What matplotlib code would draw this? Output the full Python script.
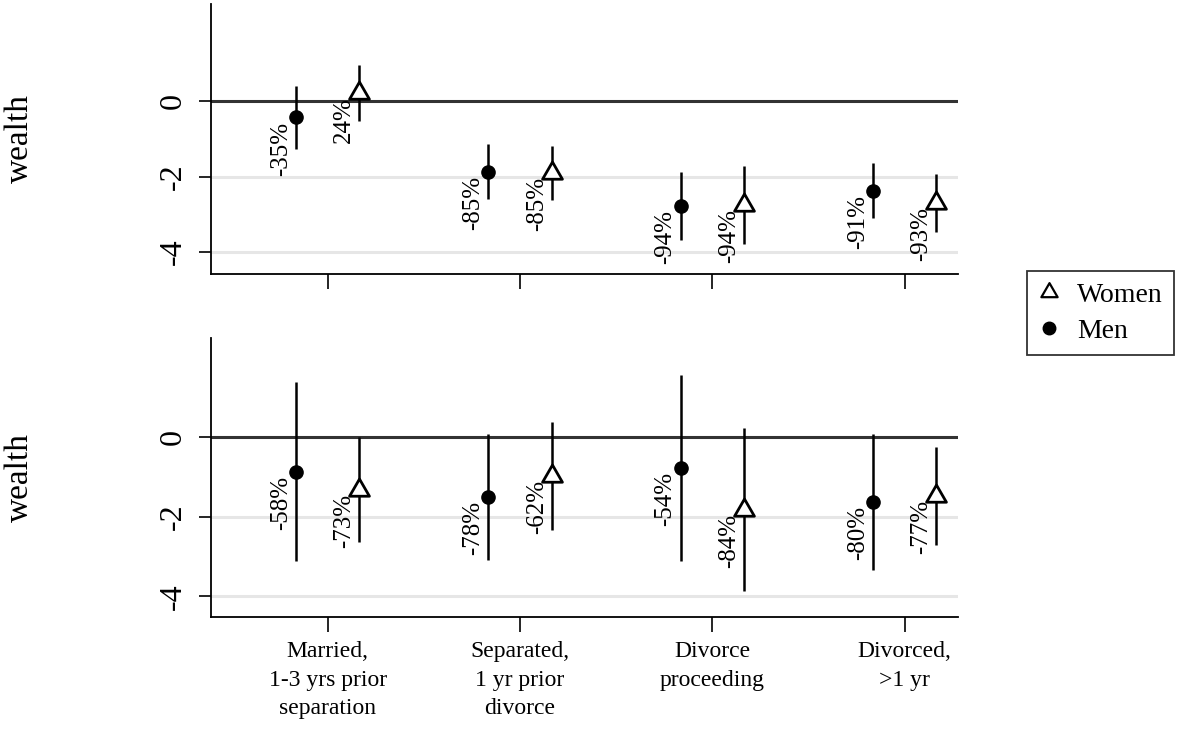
import numpy as np
import matplotlib
matplotlib.use("Agg")
import matplotlib.pyplot as plt
from matplotlib.path import Path
from matplotlib.lines import Line2D

plt.rcParams['font.family'] = ['Liberation Serif', 'DejaVu Serif']

categories = ["Married,\n1-3 yrs prior\nseparation", "Separated,\n1 yr prior\ndivorce",
              "Divorce\nproceeding", "Divorced,\n>1 yr"]

# top panel
top_men = [-0.43, -1.87, -2.78, -2.38]
top_men_ci = [0.83, 0.73, 0.91, 0.73]
top_men_lab = ["-35%", "-85%", "-94%", "-91%"]
top_women = [0.215, -1.90, -2.75, -2.70]
top_women_ci = [0.74, 0.72, 1.04, 0.78]
top_women_lab = ["24%", "-85%", "-94%", "-93%"]

# bottom panel
bot_men = [-0.86, -1.50, -0.775, -1.63]
bot_men_ci = [2.25, 1.58, 2.34, 1.71]
bot_men_lab = ["-58%", "-78%", "-54%", "-80%"]
bot_women = [-1.32, -0.97, -1.82, -1.48]
bot_women_ci = [1.32, 1.36, 2.05, 1.24]
bot_women_lab = ["-73%", "-62%", "-84%", "-77%"]

W, H = 1181, 747
fig = plt.figure(figsize=(W / 100, H / 100), dpi=100)

# triangle with its centroid on the data point
tri = Path([(0, 1), (-0.866, -0.5), (0.866, -0.5), (0, 1)],
           [Path.MOVETO, Path.LINETO, Path.LINETO, Path.CLOSEPOLY])

xpos = np.arange(1, len(categories) + 1)
off = 0.165


def panel(rect, men, men_ci, men_lab, women, women_ci, women_lab, ylim, show_x):
    ax = fig.add_axes(rect)
    for y in [-2, -4]:
        ax.axhline(y, color='#e6e6e6', lw=2.2, zorder=0)
    ax.axhline(0, color='#333333', lw=2.2, zorder=1)

    ax.errorbar(xpos - off, men, yerr=men_ci, fmt='none', ecolor='black', elinewidth=1.8, zorder=2)
    ax.errorbar(xpos + off, women, yerr=women_ci, fmt='none', ecolor='black', elinewidth=1.8, zorder=2)
    ax.plot(xpos - off, men, 'o', color='black', ms=9.5, zorder=3)
    ax.plot(xpos + off, women, linestyle='none', marker=tri, ms=16.5, mfc='white',
            mec='black', mew=2, zorder=3)

    for x, y, s in zip(xpos - off, men, men_lab):
        ax.annotate(s, (x, y), xytext=(-3, -3), textcoords='offset points',
                    rotation=90, ha='right', va='top', fontsize=18)
    for x, y, s in zip(xpos + off, women, women_lab):
        ax.annotate(s, (x, y), xytext=(-3, -3), textcoords='offset points',
                    rotation=90, ha='right', va='top', fontsize=18)

    ax.set_xlim(0.393, 4.277)
    ax.set_ylim(*ylim)
    ax.set_yticks([0, -2, -4])
    ax.set_yticklabels(["0", "-2", "-4"], fontsize=23, rotation=90, va='center')
    ax.set_xticks(xpos)
    if show_x:
        ax.set_xticklabels(categories, fontsize=17, linespacing=1.45)
    else:
        ax.set_xticklabels([])
    ax.tick_params(axis='y', length=9, width=1.2, pad=8)
    ax.tick_params(axis='x', length=10.5, width=1.2, pad=7)
    for s in ['top', 'right']:
        ax.spines[s].set_visible(False)
    for s in ['left', 'bottom']:
        ax.spines[s].set_linewidth(1.3)
    ax.set_ylabel("wealth", fontsize=24, va='center')
    ax.yaxis.set_label_coords(-191 / 747, 0.5)
    return ax


panel([211 / W, 1 - 274 / H, 747 / W, 270 / H], top_men, top_men_ci, top_men_lab,
      top_women, top_women_ci, top_women_lab, (-4.58, 2.57), False)
panel([211 / W, 1 - 617 / H, 747 / W, 279 / H], bot_men, bot_men_ci, bot_men_lab,
      bot_women, bot_women_ci, bot_women_lab, (-4.52, 2.50), True)

handles = [Line2D([], [], linestyle='none', marker=tri, ms=13.5, mfc='white', mec='black', mew=1.6),
           Line2D([], [], linestyle='none', marker='o', color='black', ms=9)]
leg = fig.legend(handles, ["Women", "Men"], loc='upper left',
                 bbox_to_anchor=(1027 / W, 1 - 271 / H), borderaxespad=0,
                 fontsize=20, frameon=True, fancybox=False, handlelength=0.8,
                 handletextpad=0.6, borderpad=0.4, labelspacing=0.4)
leg.get_frame().set_edgecolor('black')
leg.get_frame().set_linewidth(1.3)

fig.savefig("out.png", dpi=100)
